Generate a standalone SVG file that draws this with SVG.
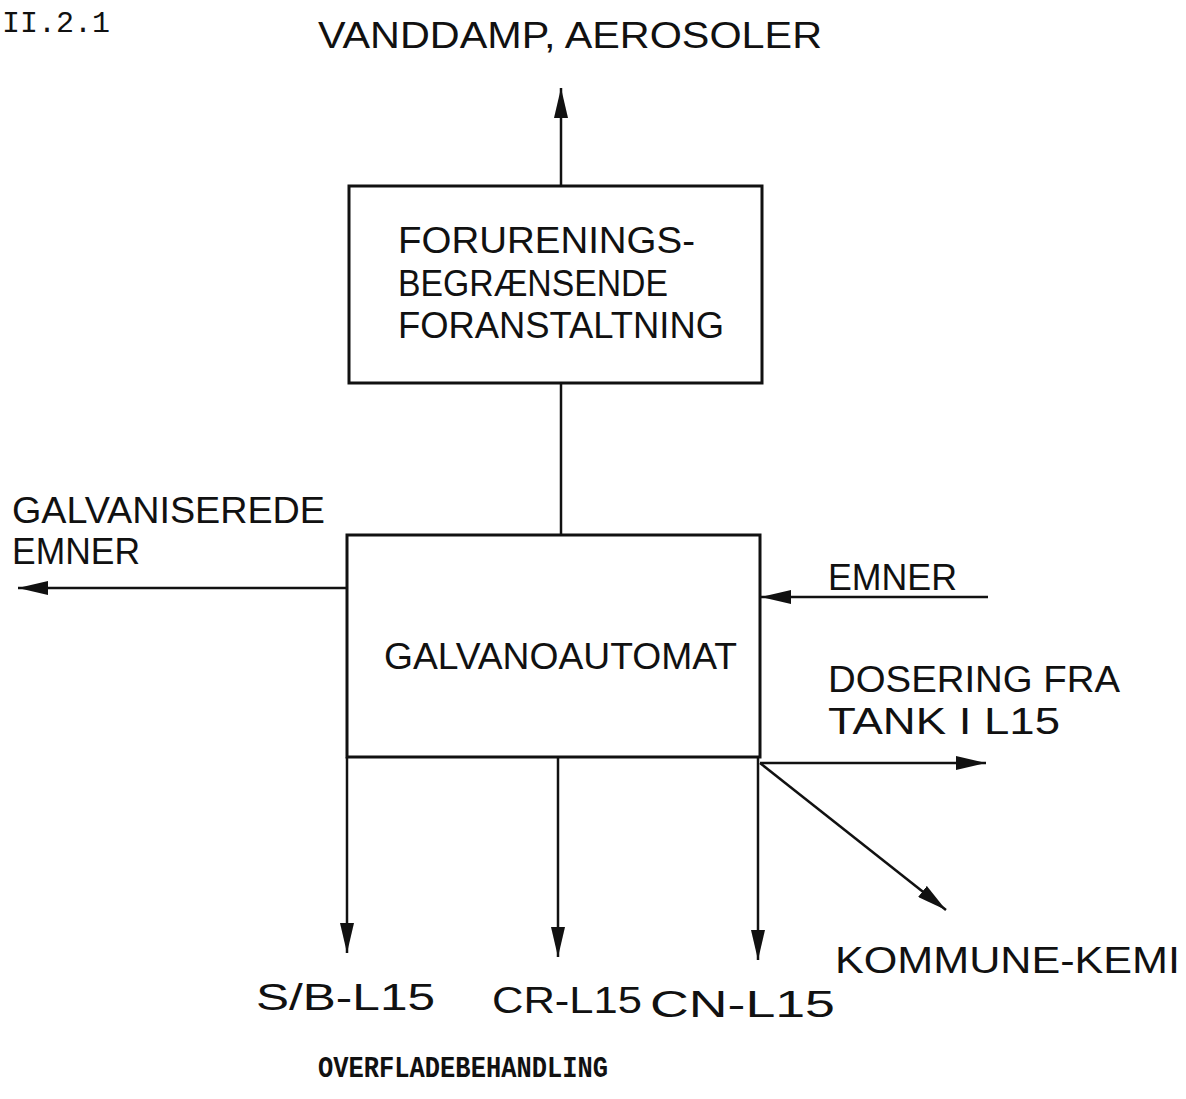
<svg xmlns="http://www.w3.org/2000/svg" width="1186" height="1099" viewBox="0 0 1186 1099">
<style>
.lbl{font-family:"Liberation Sans",Arial,sans-serif;font-size:36px;fill:#111;}
.mono{font-family:"Liberation Mono","Courier New",monospace;fill:#111;}
.box{fill:none;stroke:#111;stroke-width:3;}
.ln{fill:none;stroke:#111;stroke-width:2.5;}
</style>
<defs>
<marker id="ah" viewBox="0 0 30 14" refX="30" refY="7" markerWidth="30" markerHeight="14" markerUnits="userSpaceOnUse" orient="auto">
<path d="M0,0 L30,7 L0,14 Z" fill="#111"/>
</marker>
</defs>
<rect width="1186" height="1099" fill="#fff"/>
<text class="mono" x="2" y="32" font-size="30" textLength="108" lengthAdjust="spacingAndGlyphs">II.2.1</text>
<text class="lbl" x="318" y="48" textLength="504" lengthAdjust="spacingAndGlyphs">VANDDAMP, AEROSOLER</text>
<g id="node-forurening">
<rect class="box" x="349" y="186" width="413" height="197"/>
<text class="lbl" x="398" y="253" textLength="297" lengthAdjust="spacingAndGlyphs">FORURENINGS-</text>
<text class="lbl" x="398" y="296" textLength="270" lengthAdjust="spacingAndGlyphs">BEGRÆNSENDE</text>
<text class="lbl" x="398" y="338" textLength="326" lengthAdjust="spacingAndGlyphs">FORANSTALTNING</text>
</g>
<g id="node-galvano">
<rect class="box" x="347" y="535" width="413" height="222"/>
<text class="lbl" x="384" y="669" textLength="353" lengthAdjust="spacingAndGlyphs">GALVANOAUTOMAT</text>
</g>
<g id="labels">
<text class="lbl" x="12" y="523" textLength="313" lengthAdjust="spacingAndGlyphs">GALVANISEREDE</text>
<text class="lbl" x="12" y="564" textLength="128" lengthAdjust="spacingAndGlyphs">EMNER</text>
<text class="lbl" x="828" y="590" textLength="129" lengthAdjust="spacingAndGlyphs">EMNER</text>
<text class="lbl" x="828" y="692" textLength="292" lengthAdjust="spacingAndGlyphs">DOSERING FRA</text>
<text class="lbl" x="828" y="734" textLength="232" lengthAdjust="spacingAndGlyphs">TANK I L15</text>
<text class="lbl" x="256" y="1010" textLength="179" lengthAdjust="spacingAndGlyphs">S/B-L15</text>
<text class="lbl" x="492" y="1013" textLength="150" lengthAdjust="spacingAndGlyphs">CR-L15</text>
<text class="lbl" x="650" y="1017" textLength="185" lengthAdjust="spacingAndGlyphs">CN-L15</text>
<text class="lbl" x="835" y="973" textLength="345" lengthAdjust="spacingAndGlyphs">KOMMUNE-KEMI</text>
<text class="mono" x="318" y="1077" font-size="29" font-weight="bold" textLength="290" lengthAdjust="spacingAndGlyphs">OVERFLADEBEHANDLING</text>
</g>
<g id="connectors">
<line class="ln" x1="561" y1="186" x2="561" y2="88" marker-end="url(#ah)"/>
<line class="ln" x1="561" y1="383" x2="561" y2="535"/>
<line class="ln" x1="347" y1="588" x2="18" y2="588" marker-end="url(#ah)"/>
<line class="ln" x1="988" y1="597" x2="761" y2="597" marker-end="url(#ah)"/>
<line class="ln" x1="760" y1="763" x2="986" y2="763" marker-end="url(#ah)"/>
<line class="ln" x1="760" y1="763" x2="946" y2="910" marker-end="url(#ah)"/>
<line class="ln" x1="347" y1="757" x2="347" y2="953" marker-end="url(#ah)"/>
<line class="ln" x1="558" y1="757" x2="558" y2="957" marker-end="url(#ah)"/>
<line class="ln" x1="758" y1="757" x2="758" y2="960" marker-end="url(#ah)"/>
</g>
</svg>
